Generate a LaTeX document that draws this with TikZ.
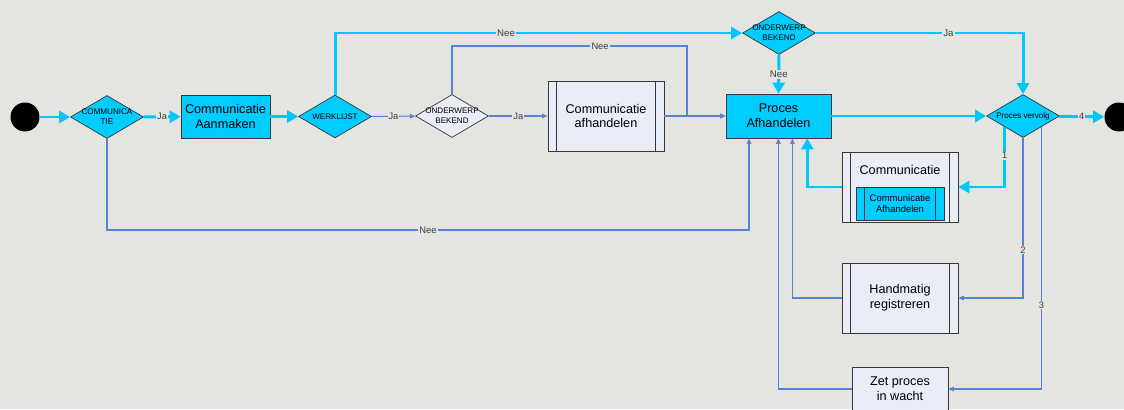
\documentclass[tikz,border=0pt]{standalone}
\usepackage{fontspec}
\setmainfont{Liberation Sans}
\usetikzlibrary{shapes.geometric, arrows.meta}
\definecolor{bgcol}{RGB}{228,228,224}
\definecolor{cyanfill}{RGB}{0,204,255}
\definecolor{cyanline}{RGB}{0,198,250}
\definecolor{lightfill}{RGB}{232,237,247}
\definecolor{thinblue}{RGB}{88,130,212}
\definecolor{edgegray}{RGB}{55,55,55}
\definecolor{txtgray}{RGB}{60,60,60}
\tikzstyle{dot} = [circle, fill=black, minimum size=0.58cm, inner sep=0pt]
\tikzstyle{decision} = [diamond, draw=edgegray, fill=cyanfill, minimum width=1.46cm, minimum height=0.86cm, inner sep=0pt]
\tikzstyle{dtext} = [font=\fontsize{4.6}{5.7}\selectfont, align=center, inner sep=0pt]
\tikzstyle{boxtext} = [font=\fontsize{7.2}{8.5}\selectfont, align=center]
\tikzstyle{process} = [rectangle, draw=edgegray, fill=cyanfill, boxtext, inner sep=0pt]
\tikzstyle{subproc} = [rectangle, draw=edgegray, fill=lightfill, boxtext, inner sep=0pt,
  path picture={
    \draw[edgegray] ([xshift=0.17cm]path picture bounding box.north west) -- ([xshift=0.17cm]path picture bounding box.south west);
    \draw[edgegray] ([xshift=-0.17cm]path picture bounding box.north east) -- ([xshift=-0.17cm]path picture bounding box.south east);
  }]
\tikzstyle{fat} = [line width=1.7pt, draw=cyanline, -{Triangle[length=0.22cm, width=0.24cm]}]
\tikzstyle{slim} = [line width=0.6pt, draw=thinblue, -{Triangle[length=0.11cm, width=0.09cm]}]
\tikzstyle{lbl} = [fill=bgcol, inner sep=0.6pt, font=\fontsize{5.3}{6}\selectfont, text=txtgray]

\begin{document}
\begin{tikzpicture}[x=0.02cm, y=-0.02cm]
\fill[bgcol] (0,0) rectangle (1124,409);
\useasboundingbox (0,0) rectangle (1124,409);
\clip (0,0) rectangle (1124,409);

% main row
\node[dot] (start) at (25,117) {};
\node[decision, label={[dtext]center:COMMUNICA\\TIE}] (com) at (107,117) {};
\node[process, minimum width=1.78cm, minimum height=0.86cm] (aan) at (225.5,116.5) {Communicatie\\Aanmaken};
\node[decision, label={[dtext]center:WERKLIJST}] (werk) at (335,116.5) {};
\node[decision, fill=lightfill, label={[dtext]center:ONDERWERP\\BEKEND}] (ond1) at (452,116) {};
\node[subproc, minimum width=2.32cm, minimum height=1.4cm] (afh) at (606,116) {Communicatie\\afhandelen};
\node[decision, label={[dtext]center:ONDERWERP\\BEKEND}] (ond2) at (779,33) {};
\node[process, minimum width=2.1cm, minimum height=0.88cm] (proc) at (778.5,116) {Proces\\Afhandelen};
\node[decision, label={[dtext]center:Proces vervolg}] (verv) at (1023,116) {};
\node[dot] (stop) at (1119,117) {};

% side boxes
\node[subproc, minimum width=2.32cm, minimum height=1.4cm,
  label={[boxtext, anchor=center, yshift=-0.37cm]north:Communicatie}] (comm) at (900,187) {};
\node[subproc, fill=cyanfill, minimum width=1.76cm, minimum height=0.66cm,
  font=\fontsize{5.4}{5.9}\selectfont] (commin) at (900,203.5) {Communicatie\\Afhandelen};
\node[subproc, minimum width=2.32cm, minimum height=1.4cm] (hand) at (900,298) {Handmatig\\registreren};
\node[rectangle, draw=edgegray, fill=lightfill, boxtext, minimum width=1.92cm, minimum height=0.88cm] (wacht) at (900,389) {Zet proces\\in wacht};

% thick flow
\draw[fat] (start) -- (com);
\draw[fat] (com) -- node[lbl]{Ja} (aan);
\draw[fat] (aan) -- (werk);
\draw[fat] (werk.north) |- node[lbl, pos=0.71, font=\fontsize{5.5}{6}\selectfont]{Nee} (ond2.west);
\draw[fat] (ond2.south) -- node[lbl, font=\fontsize{5.5}{6}\selectfont]{Nee} (proc.north);
\draw[fat] (ond2.east) -| node[lbl, pos=0.32, font=\fontsize{5.5}{6}\selectfont]{Ja} (verv.north);
\draw[fat] (proc) -- (verv);
\draw[fat] (verv) -- node[lbl]{4} (stop);
\draw[fat] (verv.south west) |- node[lbl, pos=0.24]{1} (comm.east);
\draw[fat] (comm.west) -| ([xshift=-0.48cm]proc.south east);

% thin flow
\coordinate (low) at (749,230);
\draw[slim] (werk) -- node[lbl]{Ja} (ond1);
\draw[slim] (ond1) -- node[lbl]{Ja} (afh);
\draw[slim] (ond1.north) |- node[lbl, pos=0.815]{Nee} (687,46) |- (proc.west);
\draw[slim] (afh) -- (proc);
\draw[slim] (com.south) |- node[lbl, pos=0.75]{Nee} (low) -- (low |- proc.south);
\draw[slim] (verv.south) |- node[lbl, pos=0.35]{2} (hand.east);
\draw[slim] (hand.west) -| ([xshift=-0.78cm]proc.south east);
\draw[slim] (verv.south east) |- node[lbl, pos=0.34]{3} (wacht.east);
\draw[slim] (wacht.west) -| ([xshift=-1.06cm]proc.south east);
\end{tikzpicture}
\end{document}
